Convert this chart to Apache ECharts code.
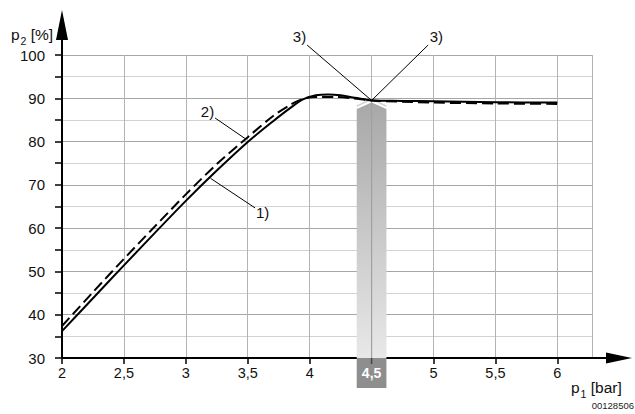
<!DOCTYPE html>
<html><head><meta charset="utf-8">
<script src="https://cdn.jsdelivr.net/npm/echarts@6/dist/echarts.min.js"></script>
<style>html,body{margin:0;padding:0;background:#fff}#c{width:635px;height:414px}</style>
</head><body><div id="c"></div>
<script>
// ---- data ----
const curve1X = [2, 2.25, 2.5, 2.75, 3, 3.25, 3.5, 3.7, 3.85, 3.95, 4.05, 4.15, 4.25, 4.35, 4.45, 4.5, 4.75, 5, 5.5, 6];
const curve1Y = [36.2, 43.8, 51.4, 58.9, 66.3, 73.3, 79.9, 84.6, 87.9, 89.8, 90.7, 90.9, 90.7, 90.2, 89.7, 89.5, 89.4, 89.3, 89.1, 89.0];
const curve2X = [2, 2.25, 2.5, 2.75, 3, 3.25, 3.5, 3.7, 3.85, 3.95, 4.05, 4.2, 4.35, 4.5, 4.75, 5, 5.5, 6];
const curve2Y = [37.4, 45.2, 52.9, 60.4, 67.8, 74.8, 81.0, 85.8, 88.6, 89.9, 90.3, 90.3, 90.0, 89.5, 89.2, 89.0, 88.8, 88.7];
const markerX = 4.5;
const markerTop = 89.0;
const markerShoulder = 87.5;
const markerLabel = '4,5';
const annotationLabels = ['1)', '2)', '3)', '3)'];
const annotationTextX = [3.62, 3.175, 3.918, 5.024];
const annotationTextY = [63.7, 87.06, 104.27, 104.27];
const annotationFromX = [3.559, 3.236, 3.979, 4.957];
const annotationFromY = [64.67, 85.45, 102.31, 102.31];
const annotationToX = [3.2, 3.478, 4.5, 4.5];
const annotationToY = [71.5, 80.7, 89.5, 89.5];
const xAxisName = ['p', '1', ' [bar]'];
const yAxisName = ['p', '2', ' [%]'];
const docCode = '00128506';

const FONT = 'Arial, "Liberation Sans", sans-serif';
const chart = echarts.init(document.getElementById('c'), null, {renderer: 'svg'});

const option = {
  animation: false,
  backgroundColor: '#fff',
  grid: [
    {left: 62, top: 55, right: 43, bottom: 56},
    {left: 62, top: 25, right: 16, bottom: 56}
  ],
  xAxis: [
    {
      type: 'value', gridIndex: 0, min: 2, max: 6.28, interval: 0.5,
      axisLine: {show: false},
      axisTick: {show: true, length: 6, lineStyle: {color: '#000', width: 1.5}},
      axisLabel: {
        margin: 7, color: '#111', fontSize: 14.5, fontFamily: FONT, showMaxLabel: false,
        formatter: v => (Math.abs(v - markerX) < 1e-9 || v > 6.01) ? '' : String(v).replace('.', ',')
      },
      splitLine: {show: true, lineStyle: {color: '#b4b4b4', width: 1}}
    },
    {
      type: 'value', gridIndex: 1, min: 0, max: 1,
      axisLine: {show: true, lineStyle: {color: '#000', width: 2}, symbol: ['none', 'triangle'], symbolSize: [11, 26]},
      axisTick: {show: false}, axisLabel: {show: false}, splitLine: {show: false}
    }
  ],
  yAxis: [
    {
      type: 'value', gridIndex: 0, min: 30, max: 100, interval: 5,
      axisLine: {show: false},
      axisTick: {show: true, length: 7, lineStyle: {color: '#000', width: 1.5}},
      axisLabel: {
        margin: 17, color: '#111', fontSize: 15, fontFamily: FONT,
        formatter: v => (v % 10 === 0) ? String(v) : ''
      },
      splitLine: {show: true, lineStyle: {color: ['#a6a6a6', '#d2d2d2'], width: 1}}
    },
    {
      type: 'value', gridIndex: 1, min: 0, max: 1,
      axisLine: {show: true, lineStyle: {color: '#000', width: 2}, symbol: ['none', 'triangle'], symbolSize: [12, 30]},
      axisTick: {show: false}, axisLabel: {show: false}, splitLine: {show: false}
    }
  ],
  series: [
    {
      type: 'custom', xAxisIndex: 0, yAxisIndex: 0, z: 1, clip: false,
      data: [[markerX, markerTop]],
      renderItem: (params, api) => {
        const hw = 0.12;
        const bl = api.coord([markerX - hw, 30]);
        const br = api.coord([markerX + hw, 30]);
        const sl = api.coord([markerX - hw, markerShoulder]);
        const sr = api.coord([markerX + hw, markerShoulder]);
        const tp = api.coord([markerX, markerTop]);
        const grad = new echarts.graphic.LinearGradient(0, 0, 0, 1, [
          {offset: 0, color: '#a8a8a8'}, {offset: 1, color: '#e8e8e8'}
        ]);
        return {
          type: 'group',
          children: [
            {type: 'polygon', shape: {points: [bl, sl, tp, sr, br]}, style: {fill: grad}},
            {type: 'line', shape: {x1: tp[0], y1: tp[1], x2: tp[0], y2: bl[1]}, style: {stroke: '#a0a0a0', lineWidth: 1.2}},
            {type: 'polyline', shape: {points: [[sl[0], sl[1] - 3], [tp[0], tp[1] - 3.5], [sr[0], sr[1] - 3]]}, style: {stroke: '#cfcfcf', lineWidth: 1.5, fill: 'none'}},
            {type: 'rect', shape: {x: bl[0], y: bl[1], width: br[0] - bl[0], height: 30}, style: {fill: '#8e8e8e'}},
            {type: 'line', shape: {x1: tp[0], y1: bl[1], x2: tp[0], y2: bl[1] + 6}, style: {stroke: '#444', lineWidth: 1.5}},
            {type: 'text', style: {text: markerLabel, x: (bl[0] + br[0]) / 2, y: bl[1] + 15, align: 'center', verticalAlign: 'middle', fill: '#fff', fontSize: 14, fontWeight: 'bold', fontFamily: FONT}}
          ]
        };
      }
    },
    {
      type: 'line', xAxisIndex: 0, yAxisIndex: 0, z: 3,
      data: curve1X.map((x, i) => [x, curve1Y[i]]),
      showSymbol: false, smooth: 0.3,
      lineStyle: {color: '#000', width: 2}
    },
    {
      type: 'line', xAxisIndex: 0, yAxisIndex: 0, z: 3,
      data: curve2X.map((x, i) => [x, curve2Y[i]]),
      showSymbol: false, smooth: 0.3,
      lineStyle: {color: '#000', width: 2, type: [11, 5]}
    },
    {
      type: 'custom', xAxisIndex: 0, yAxisIndex: 0, z: 4, clip: false,
      data: annotationLabels.map((l, i) => [annotationToX[i], annotationToY[i]]),
      renderItem: (params, api) => {
        const i = params.dataIndex;
        const a = api.coord([annotationFromX[i], annotationFromY[i]]);
        const b = api.coord([annotationToX[i], annotationToY[i]]);
        const t = api.coord([annotationTextX[i], annotationTextY[i]]);
        return {
          type: 'group',
          children: [
            {type: 'line', shape: {x1: a[0], y1: a[1], x2: b[0], y2: b[1]}, style: {stroke: '#000', lineWidth: 1}},
            {type: 'text', style: {text: annotationLabels[i], x: t[0], y: t[1], align: 'center', verticalAlign: 'middle', fill: '#111', fontSize: 15, fontFamily: FONT}}
          ]
        };
      }
    }
  ],
  graphic: [
    {
      type: 'text', left: 11, top: 26, z: 10,
      style: {
        text: '{a|' + yAxisName[0] + '}{s|' + yAxisName[1] + '}{a|' + yAxisName[2] + '}',
        rich: {
          a: {fontSize: 15.5, fontFamily: FONT, fill: '#111', lineHeight: 18, verticalAlign: 'bottom'},
          s: {fontSize: 10.5, fontFamily: FONT, fill: '#111', lineHeight: 18, verticalAlign: 'bottom', padding: [0, 0, -4, 1]}
        }
      }
    },
    {
      type: 'text', left: 571, top: 379, z: 10,
      style: {
        text: '{a|' + xAxisName[0] + '}{s|' + xAxisName[1] + '}{a|' + xAxisName[2] + '}',
        rich: {
          a: {fontSize: 15.5, fontFamily: FONT, fill: '#111', lineHeight: 18, verticalAlign: 'bottom'},
          s: {fontSize: 10.5, fontFamily: FONT, fill: '#111', lineHeight: 18, verticalAlign: 'bottom', padding: [0, 0, -4, 1]}
        }
      }
    },
    {
      type: 'text', right: 1, top: 400, z: 10,
      style: {text: docCode, fontSize: 9.5, fontFamily: FONT, fill: '#222'}
    }
  ]
};
chart.setOption(option);
</script>
</body></html>
